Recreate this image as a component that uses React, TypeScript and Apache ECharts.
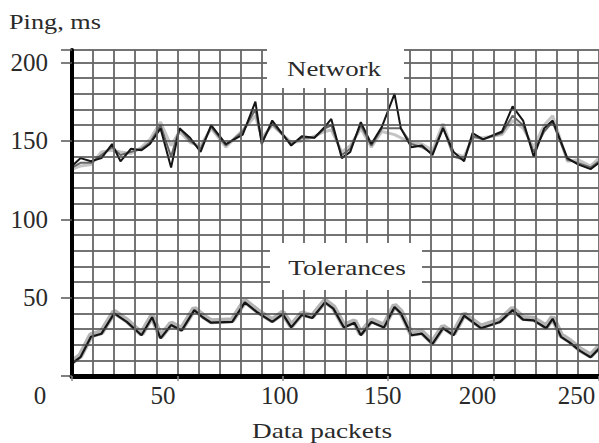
import React, { useEffect, useRef } from "react";
import * as echarts from "echarts";

const networkX = [0, 4, 9, 14, 19, 23, 28, 33, 37, 42, 47, 51, 56, 61, 66, 73, 81, 87, 90, 95, 104, 109, 115, 120, 123, 128, 132, 137, 142, 147, 153, 156, 161, 166, 171, 176, 181, 186, 190, 195, 204, 209, 214, 219, 224, 228, 235, 240, 246, 250];
const networkBlack = [134, 139, 137, 139, 148, 137, 145, 144, 148, 158, 133, 158, 152, 143, 160, 148, 154, 175, 148, 163, 147, 153, 152, 159, 164, 139, 143, 162, 148, 159, 180, 158, 146, 147, 141, 158, 143, 137, 155, 151, 156, 172, 163, 140, 158, 163, 139, 135, 132, 136];
const networkDark = [133, 136, 136, 141, 146, 141, 143, 145, 149, 160, 140, 158, 150, 145, 159, 147, 156, 170, 150, 161, 148, 152, 152, 158, 160, 141, 145, 160, 147, 158, 158, 158, 148, 146, 142, 159, 140, 138, 153, 151, 155, 166, 160, 143, 156, 162, 138, 136, 133, 137];
const networkLight = [132, 134, 135, 143, 144, 143, 142, 146, 151, 162, 147, 156, 149, 147, 158, 146, 157, 166, 152, 160, 149, 150, 153, 156, 157, 143, 147, 158, 146, 156, 154, 152, 149, 148, 144, 161, 142, 140, 152, 152, 154, 163, 158, 146, 160, 166, 137, 138, 134, 139];

const toleranceX = [0, 4, 9, 14, 20, 26, 33, 38, 42, 47, 52, 58, 62, 66, 76, 82, 88, 95, 100, 104, 109, 114, 120, 124, 129, 134, 137, 142, 148, 153, 156, 161, 166, 171, 176, 181, 186, 194, 203, 209, 214, 219, 225, 228, 232, 236, 241, 246, 250];
const toleranceBlack = [8, 12, 25, 27, 40, 34.5, 26, 37.5, 24, 32.5, 29, 42, 37.5, 34, 34.5, 47, 40.5, 34.5, 39.5, 31, 39, 37, 47, 43, 31, 34, 26, 34.5, 31, 44, 40, 26, 27, 20.5, 30.5, 26, 38.5, 30.5, 34.5, 42, 36, 35.5, 30.5, 36.5, 25, 21.5, 16, 12, 17.5];
const toleranceGrey = [9, 13, 26, 28, 41, 35.5, 27, 38.5, 25, 33.5, 30, 43, 38.5, 35, 35.5, 48, 41.5, 35.5, 40.5, 32, 40, 38, 48, 44, 32, 35, 27, 35.5, 32, 45, 41, 27, 28, 21.5, 31.5, 27, 39.5, 31.5, 35.5, 43, 37, 36.5, 31.5, 37.5, 26, 22.5, 17, 13, 18.5];

const xTickLabels = [0, 50, 100, 150, 200, 250];
const yTickLabels = [50, 100, 150, 200];

const titleText = "Ping, ms";
const xTitleText = "Data packets";
const networkText = "Network";
const toleranceText = "Tolerances";

const pairs = (xs: number[], ys: number[]) => xs.map((x, i) => [x, ys[i]]);

const FONT = "Liberation Serif, Times New Roman, serif";
const TXT = "#2a2a2a";

const xLabelPad: Record<number, number> = { 0: 64, 50: 29, 100: 6, 150: 11, 200: 32, 250: 45 };

export default function App() {
  const ref = useRef<HTMLDivElement>(null);
  useEffect(() => {
    if (!ref.current) return;
    const chart = echarts.init(ref.current, undefined, { renderer: "svg" });
    const rich: Record<string, any> = {};
    xTickLabels.forEach((v) => {
      rich["l" + v] = {
        fontSize: 25,
        fontFamily: FONT,
        color: TXT,
        padding: [0, xLabelPad[v] || 0, 0, 0],
      };
    });
    const hLine = { color: "#444", width: 1.6 };
    const vLine = { color: "#666", width: 1.8 };
    chart.setOption({
      animation: false,
      backgroundColor: "#fff",
      grid: { left: 72, right: 0, top: 50, bottom: 67, containLabel: false },
      xAxis: {
        type: "value",
        min: 0,
        max: 250,
        interval: 50,
        z: 5,
        axisLine: { show: true, onZero: false, lineStyle: { color: "#000", width: 5 } },
        axisTick: { show: true, length: 5, lineStyle: { color: "#888", width: 1.5 } },
        minorTick: { show: true, splitNumber: 5, length: 0 },
        splitLine: { show: true, showMinLine: false, lineStyle: vLine },
        minorSplitLine: { show: true, lineStyle: vLine },
        axisLabel: {
          margin: 7,
          formatter: (v: number) => (xTickLabels.includes(v) ? `{l${v}|${v}}` : ""),
          rich,
        },
      },
      yAxis: {
        type: "value",
        min: 0,
        max: 208,
        interval: 50,
        z: 5,
        axisLine: { show: true, onZero: false, lineStyle: { color: "#000", width: 4 } },
        axisTick: { show: true, length: 11, lineStyle: { color: "#555", width: 1.5 } },
        minorTick: { show: true, splitNumber: 5, length: 0 },
        splitLine: { show: true, showMinLine: false, lineStyle: hLine },
        minorSplitLine: { show: true, lineStyle: hLine },
        axisLabel: {
          margin: 24,
          fontSize: 25,
          fontFamily: FONT,
          color: TXT,
          formatter: (v: number) => (yTickLabels.includes(v) ? String(v) : ""),
        },
      },
      series: [
        {
          type: "line",
          data: pairs(networkX, networkLight),
          showSymbol: false,
          lineStyle: { color: "#c4c4c4", width: 3 },
          z: 2,
        },
        {
          type: "line",
          data: pairs(networkX, networkDark),
          showSymbol: false,
          lineStyle: { color: "#666", width: 2 },
          z: 3,
        },
        {
          type: "line",
          data: pairs(networkX, networkBlack),
          showSymbol: false,
          lineStyle: { color: "#151515", width: 2 },
          z: 4,
        },
        {
          type: "line",
          data: pairs(toleranceX, toleranceGrey),
          showSymbol: false,
          lineStyle: { color: "#b4b4b4", width: 6 },
          z: 2,
        },
        {
          type: "line",
          data: pairs(toleranceX, toleranceBlack),
          showSymbol: false,
          lineStyle: { color: "#151515", width: 2.2 },
          z: 4,
        },
      ],
      graphic: [
        { type: "rect", shape: { x: 267, y: 49, width: 137, height: 39 }, style: { fill: "#fff" }, z: 10 },
        { type: "rect", shape: { x: 270, y: 243, width: 152, height: 47 }, style: { fill: "#fff" }, z: 10 },
        {
          type: "text", x: 334, y: 68, scaleX: 1.22, z: 11,
          style: { text: networkText, fontSize: 22, fontFamily: FONT, fill: TXT, textAlign: "center", textVerticalAlign: "middle" },
        },
        {
          type: "text", x: 347, y: 267, scaleX: 1.24, z: 11,
          style: { text: toleranceText, fontSize: 22, fontFamily: FONT, fill: TXT, textAlign: "center", textVerticalAlign: "middle" },
        },
        {
          type: "text", x: 9, y: 22, scaleX: 1.25, z: 11,
          style: { text: titleText, fontSize: 21, fontFamily: FONT, fill: TXT, textAlign: "left", textVerticalAlign: "middle" },
        },
        {
          type: "text", x: 322, y: 430, scaleX: 1.24, z: 11,
          style: { text: xTitleText, fontSize: 22, fontFamily: FONT, fill: TXT, textAlign: "center", textVerticalAlign: "middle" },
        },
      ],
    });
    return () => chart.dispose();
  }, []);
  return (
    <div
      ref={ref}
      style={{ position: "fixed", left: 0, top: 0, width: 599, height: 443, background: "#fff" }}
    />
  );
}
